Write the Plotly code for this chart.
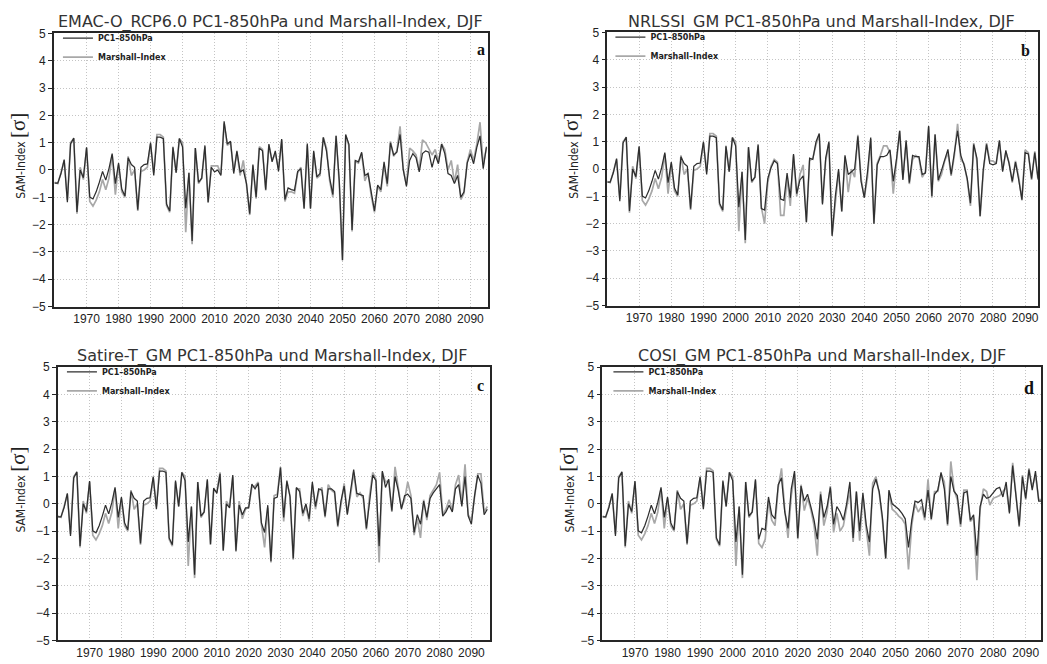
import plotly.graph_objects as go

years = list(range(1960, 2096))

# DJF SAM index, segment shared by all four runs (1960-2007)
hist_pc1 = [-0.48, -0.48, -0.13, 0.38, -1.18, 0.95, 1.17, -1.54, 0.0, -0.28,
            0.83, -0.99, -1.06, -0.8, -0.45, -0.05, -0.37, 0.05, 0.6, -0.5,
            0.25, -0.7, -0.95, 0.45, 0.2, 0.1, -1.45, 0.1, 0.2, 0.22,
            1.0, -0.2, 1.2, 1.2, 1.15, -1.25, -1.5, 0.85, -0.1, 1.15,
            0.85, -1.4, -0.1, -2.6, 0.8, -0.45, -0.3, 0.9]
hist_marshall = [-0.45, -0.5, -0.1, 0.35, -1.1, 1.0, 1.15, -1.6, 0.1, -0.35,
                 0.8, -1.15, -1.32, -1.1, -0.8, -0.35, -0.72, -0.3, 0.55, -0.9,
                 0.2, -0.8, -1.0, 0.5, -0.2, 0.0, -1.5, -0.05, 0.0, 0.1,
                 0.95, -0.1, 1.3, 1.3, 1.2, -1.3, -1.55, 0.8, -0.1, 1.15,
                 1.0, -2.28, -0.1, -2.72, 0.8, -0.5, -0.3, 0.85]

# 2008-2095, per run
emac_pc1 = [-1.18, 0.1,
            -0.07, 0.0, -0.2, 1.78, 0.95, 1.05, -0.13, 0.7, -0.07, 0.0,
            -0.5, -1.6, 0.2, -1.0, 0.8, 0.7, -0.72, 0.95, 0.3, 0.7,
            -0.05, 1.13, -1.08, -0.66, -0.72, -0.75, -0.05, 0.05, -1.42, 0.97,
            -1.42, 0.7, -0.25, -0.13, 1.19, 0.7, -0.3, -0.9, 1.25, -0.4,
            -3.3, 1.3, 0.95, -2.2, 0.35, 0.3, 0.65, -0.2, -0.13, -0.85,
            -1.5, -0.55, -0.72, 0.3, -0.5, 1.0, 0.55, 0.65, 1.3, 0.0,
            -0.6, 0.35, 0.6, 0.45, -0.07, 0.6, 0.7, 0.65, 0.1, 0.55,
            0.23, 0.95, 0.6, -0.13, -0.2, -0.5, -0.2, -1.0, -0.8, 0.25,
            0.6, 0.23, 0.83, 1.25, 0.05, 0.85]
emac_marshall = [-1.2, 0.15,
                 0.15, 0.15, -0.15, 1.7, 0.9, 1.0, -0.05, 0.65, -0.2, 0.35,
                 -0.55, -1.65, 0.15, -1.05, 0.85, 0.75, -0.75, 0.9, 0.35, 0.6,
                 0.05, 1.1, -1.15, -0.8, -0.8, -0.85, -0.1, 0.1, -1.4, 0.9,
                 -1.4, 0.65, -0.3, -0.2, 1.2, 0.8, -0.4, -1.0, 1.25, -0.5,
                 -3.3, 1.25, 0.9, -2.25, 0.3, 0.25, 0.6, -0.4, -0.1, -0.95,
                 -1.55, -0.6, -0.8, 0.2, -0.6, 1.05, 0.5, 0.7, 1.6, 0.05,
                 -0.55, 0.8, 0.7, 0.55, 0.0, 1.1, 1.0, 0.75, 0.55, 0.75,
                 0.3, 0.95, 0.75, 0.0, 0.35, -0.45, 0.2, -1.08, -0.85, 0.3,
                 0.75, 0.35, 0.95, 1.75, 0.2, 0.8]

nrlssi_pc1 = [-1.45, -1.5,
              -0.35, 0.05, 0.3, 0.2, -1.1, -1.15, -0.15, -1.05, 0.55, -0.9,
              -0.4, -0.25, -1.95, 0.4, 0.35, 1.0, 1.3, -1.3, 0.4, 1.0,
              -2.45, -1.0, 0.0, -1.55, 0.5, -0.2, -0.1, 0.0, 1.2, -0.45,
              -1.05, -0.1, 1.15, -2.0, 0.15, 0.45, 0.45, 0.5, 0.7, -0.45,
              0.35, 1.4, -0.4, 1.05, -0.5, 0.5, 0.45, 0.45, -0.2, -0.15,
              1.57, -1.0, 1.27, -0.4, -0.05, 0.38, 0.72, -0.2, 0.55, 1.4,
              0.5, 0.15, -0.35, -1.25, 0.9, 0.4, -1.72, 0.0, 0.9, 0.2,
              0.15, 0.2, 1.05, -0.1, 0.68, 0.2, -0.45, 0.25, -0.4, -1.12,
              0.6, 0.55, -0.35, 0.6, -0.35, 1.15]
nrlssi_marshall = [-1.4, -2.0,
                   -0.5, 0.1, 0.35, 0.25, -1.7, -1.7, -0.3, -1.35, 0.5, -1.0,
                   -0.2, 0.15, -1.95, 0.3, 0.4, 0.9, 1.25, -1.25, 0.3, 0.95,
                   -2.4, -1.3, -0.1, -1.55, 0.45, -0.85, 0.0, -0.3, 1.25, -0.35,
                   -1.05, -0.3, 1.1, -2.0, 0.2, 0.5, 0.85, 0.85, 0.6, -0.9,
                   0.3, 1.4, -0.35, 1.0, -0.55, 0.35, 0.5, 0.4, -0.3, -0.1,
                   1.55, -1.05, 1.25, -0.45, -0.2, 0.3, 0.6, -0.25, 0.5, 1.65,
                   0.35, 0.2, -0.4, -1.35, 0.95, 0.3, -1.75, -0.1, 0.95, 0.3,
                   0.3, 0.2, 1.0, -0.05, 0.6, 0.25, -0.5, 0.3, -0.3, -1.15,
                   0.7, 0.6, -0.4, 0.65, -0.4, 1.1]

satire_pc1 = [-1.48, 0.58,
              0.38, 1.1, -1.72, 0.0, -0.15, 1.05, -1.72, -0.05, -0.4, -0.15,
              -0.15, 0.72, 0.55, 0.75, -0.7, -1.05, -0.05, -2.1, 0.2, 0.25,
              1.33, -0.5, 0.85, 0.25, -2.0, 0.6, 0.45, -0.35, 0.0, -0.55,
              0.8, -0.1, 0.55, 0.5, -0.45, 0.55, 0.55, 0.45, -0.8, 0.1,
              0.65, -0.4, 0.45, 1.25, 0.38, 0.35, 0.3, -0.9, 0.2, 1.05,
              0.85, -1.55, 1.2, 0.6, 0.9, -0.25, 1.0, 0.5, -0.2, 0.3,
              0.35, 0.2, -1.05, -0.4, -0.75, 0.1, -0.5, 0.2, 0.4, 0.55,
              0.7, -0.45, -0.3, -0.05, -0.3, 0.55, 0.7, -0.1, 1.0, -0.45,
              -0.75, 0.3, 1.05, 0.75, -0.4, -0.2]
satire_marshall = [-1.5, 0.5,
                   0.45, 1.15, -1.7, 0.1, -0.1, 1.0, -1.75, 0.1, -0.55, -0.2,
                   -0.1, 0.6, 0.65, 0.8, -0.75, -1.6, -0.15, -2.15, 0.3, 0.35,
                   1.35, -0.65, 0.8, 0.3, -2.05, 0.55, 0.55, -0.45, -0.1, -0.65,
                   0.7, -0.2, 0.45, 0.6, -0.5, 0.7, 0.5, 0.4, -0.85, 0.05,
                   0.75, -0.35, 0.3, 1.15, 0.25, 0.4, 0.2, -0.95, 0.3, 1.15,
                   0.9, -2.15, 1.15, 0.8, 0.85, -0.3, 1.35, 0.6, -0.15, 0.15,
                   0.8, 0.3, -1.15, -0.55, -1.25, 0.15, -0.6, 0.3, 0.5, 0.7,
                   1.15, -0.4, -0.2, 0.15, -0.25, 0.7, 1.05, 0.0, 1.45, -0.4,
                   -0.6, 0.2, 1.1, 1.1, -0.3, -0.1]

cosi_pc1 = [-1.3, -0.9,
            -0.95, 0.25, -0.4, -0.55, 0.7, 0.95, -0.3, -0.9, 0.55, 1.2,
            -1.25, 0.65, 0.1, 0.35, -0.1, -0.6, -1.3, 0.35, -0.5, -0.1,
            0.6, -0.75, -0.1, -0.3, -0.6, 0.0, 0.8, -1.25, 0.45, -1.0,
            0.4, -0.75, -1.4, 0.55, 0.9, 0.45, -0.5, -2.0, 0.5, 0.0,
            -0.1, -0.2, -0.35, -0.55, -1.6, -0.6, 0.1, 0.05, 0.15, -0.5,
            0.5, -0.55, 0.35, 0.5, 1.15, 0.55, -0.75, 1.0, 0.45, 0.3,
            -0.75, 0.4, 0.45, -0.6, -0.4, -1.9, -0.1, 0.35, 0.2, 0.25,
            0.4, 0.55, 0.6, 0.25, 0.8, -0.35, 1.4, 0.4, -0.8, 1.0,
            0.2, 1.25, 0.5, 1.2, 0.1, 0.1]
cosi_marshall = [-1.45, -1.6,
                 -1.3, 0.1, -0.6, -0.8, 0.6, 1.3, -0.2, -1.25, 0.3, 1.1,
                 -1.3, 0.7, -0.25, 0.2, -0.2, -0.8, -1.9, 0.45, -0.8, -0.3,
                 0.65, -1.05, -0.35, -1.0, -0.8, -0.2, 0.5, -1.4, 0.45, -1.35,
                 0.3, -0.9, -1.9, 0.75, 1.0, 0.4, -0.6, -2.0, 0.45, -0.2,
                 -0.3, -0.45, -0.55, -0.75, -2.4, -0.8, 0.0, -0.3, -0.1, -0.6,
                 0.9, -0.6, 0.45, 0.45, 1.1, 0.8, -0.8, 1.55, 0.5, 0.15,
                 -0.85, 0.5, 0.5, -0.65, -0.5, -2.8, -0.2, 0.55, 0.45, -0.05,
                 0.2, 0.25, 0.3, 0.45, 0.6, -0.3, 1.5, 0.35, -0.85, 1.05,
                 0.15, 1.3, 0.6, 1.05, 0.15, 0.15]

titles = ["EMAC-O_RCP6.0 PC1-850hPa und Marshall-Index, DJF",
          "NRLSSI_GM PC1-850hPa und Marshall-Index, DJF",
          "Satire-T_GM PC1-850hPa und Marshall-Index, DJF",
          "COSI_GM PC1-850hPa und Marshall-Index, DJF"]
letters = ["a", "b", "c", "d"]
series_names = ["PC1\u2013850hPa", "Marshall\u2013Index"]
xtick_years = list(range(1970, 2091, 10))
ytick_vals = list(range(-5, 6))

pc1_runs = [hist_pc1 + emac_pc1, hist_pc1 + nrlssi_pc1,
            hist_pc1 + satire_pc1, hist_pc1 + cosi_pc1]
marshall_runs = [hist_marshall + emac_marshall, hist_marshall + nrlssi_marshall,
                 hist_marshall + satire_marshall, hist_marshall + cosi_marshall]

W, H = 1047, 664


def px(x):
    return x / W


def py(y):
    return 1 - y / H


# panel geometry in pixels: plot box, x range, text anchors
frames = [
    dict(box=(54, 488, 27, 306), xr=(1959.8, 2095.35), title=(271, 15),
         ytitle=(18.5, 151.5), letter=(481, 43), leg=(58, 17), lsize=16),
    dict(box=(608, 1039, 26, 305), xr=(1960.15, 2094.0), title=(822, 15),
         ytitle=(572, 151.5), letter=(1026, 44), leg=(611, 16), lsize=16),
    dict(box=(58, 490, 368, 647), xr=(1960.05, 2095.7), title=(273, 357),
         ytitle=(18.5, 492.5), letter=(481, 387), leg=(62, 358), lsize=16),
    dict(box=(603, 1042, 368, 647), xr=(1960.0, 2094.7), title=(823, 357),
         ytitle=(567.5, 493), letter=(1030, 389), leg=(609, 358), lsize=18),
]

PC1_COLOR = "#2e2e2e"
MAR_COLOR = "#a8a8a8"
GRID = "#c4c4c4"
AXIS = "#262626"

fig = go.Figure()
layout = dict(width=W, height=H, margin=dict(l=0, r=0, t=0, b=0),
              paper_bgcolor="white", plot_bgcolor="white", annotations=[])

for i, fr in enumerate(frames):
    n = "" if i == 0 else str(i + 1)
    leg = "legend" if i == 0 else f"legend{i + 1}"
    x0, x1, y0, y1 = fr["box"]

    # Marshall drawn first so the PC1 line sits on top
    fig.add_trace(go.Scatter(x=years, y=marshall_runs[i], mode="lines",
                             name=series_names[1],
                             line=dict(color=MAR_COLOR, width=1.7),
                             xaxis="x" + n, yaxis="y" + n, legend=leg))
    fig.add_trace(go.Scatter(x=years, y=pc1_runs[i], mode="lines",
                             name=series_names[0],
                             line=dict(color=PC1_COLOR, width=1.25),
                             xaxis="x" + n, yaxis="y" + n, legend=leg))

    layout["xaxis" + n] = dict(
        domain=[px(x0), px(x1)], range=list(fr["xr"]), anchor="y" + n,
        tickvals=xtick_years, ticktext=[str(v) for v in xtick_years],
        ticks="", showgrid=True, gridcolor=GRID, griddash="1px,2px",
        gridwidth=1, showline=True, linecolor=AXIS, linewidth=1.5,
        mirror=True, zeroline=False,
        tickfont=dict(family="Liberation Sans, Arial, sans-serif", size=12,
                      color="#222"))
    layout["yaxis" + n] = dict(
        domain=[py(y1), py(y0)], range=[-5, 5], anchor="x" + n,
        tickvals=ytick_vals, ticks="outside", ticklen=4, tickcolor=AXIS,
        showgrid=True, gridcolor=GRID, griddash="1px,2px", gridwidth=1,
        showline=True, linecolor=AXIS, linewidth=1.5, mirror=True,
        zeroline=False,
        tickfont=dict(family="Liberation Sans, Arial, sans-serif", size=12,
                      color="#222"))
    layout[leg] = dict(
        x=px(fr["leg"][0]), y=py(fr["leg"][1]), xanchor="left", yanchor="top",
        bgcolor="rgba(0,0,0,0)", borderwidth=0, traceorder="reversed",
        tracegroupgap=0, itemwidth=30,
        font=dict(family="DejaVu Sans, sans-serif", size=8, color="#222",
                  weight="bold"))

    layout["annotations"] += [
        dict(text=titles[i], xref="paper", yref="paper",
             x=px(fr["title"][0]), y=py(fr["title"][1]),
             xanchor="center", yanchor="middle", showarrow=False,
             font=dict(family="DejaVu Sans, sans-serif", size=16,
                       color="#333333")),
        dict(text="SAM-Index <span style='font-family:Liberation Serif;"
                  "font-size:21px'>[\u03c3]</span>",
             xref="paper", yref="paper",
             x=px(fr["ytitle"][0]), y=py(fr["ytitle"][1]),
             xanchor="center", yanchor="middle", textangle=-90,
             showarrow=False,
             font=dict(family="Liberation Sans Narrow, DejaVu Sans Condensed, "
                              "Arial Narrow, sans-serif",
                       size=12, color="#222")),
        dict(text="<b>" + letters[i] + "</b>", xref="paper", yref="paper",
             x=px(fr["letter"][0]), y=py(fr["letter"][1]),
             xanchor="center", yanchor="middle", showarrow=False,
             font=dict(family="Liberation Serif, Times New Roman, serif",
                       size=fr["lsize"], color="#111")),
    ]

fig.update_layout(**layout)
fig.write_html("out.html")
